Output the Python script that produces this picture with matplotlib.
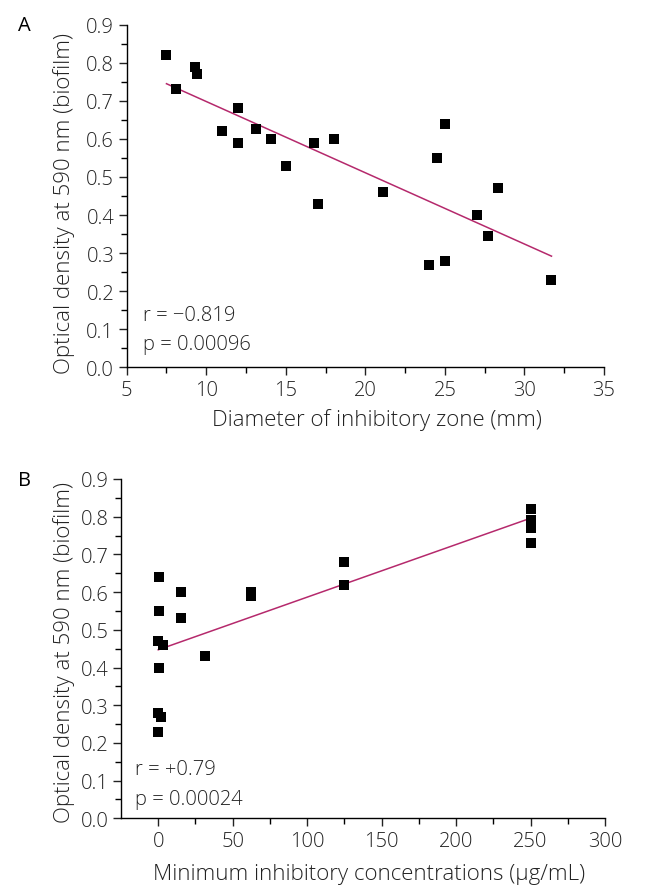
import numpy as np
import matplotlib
matplotlib.use("Agg")
import matplotlib.pyplot as plt
from matplotlib.ticker import MultipleLocator, FixedLocator

plt.rcParams['font.family'] = ['Open Sans', 'DejaVu Sans']

# Panel A data
zone_mm = [7.5, 8.1, 9.3, 9.4, 11.0, 12.0, 12.0, 13.1, 14.05, 15.0, 16.8, 17.05,
           18.05, 21.1, 24.0, 24.5, 25.0, 25.0, 27.0, 27.7, 28.35, 31.7]
od_a = [0.82, 0.73, 0.79, 0.77, 0.62, 0.68, 0.59, 0.627, 0.60, 0.53, 0.59, 0.43,
        0.60, 0.46, 0.27, 0.55, 0.64, 0.28, 0.40, 0.345, 0.47, 0.23]

# Panel B data
mic = [0.5, 0.5, 0, 3, 0.5, 0, 2, 0, 15.6, 15.6, 31.25, 62.5, 62.5, 125, 125,
       250, 250, 250, 250, 250]
od_b = [0.64, 0.55, 0.47, 0.46, 0.40, 0.28, 0.27, 0.23, 0.60, 0.53, 0.43, 0.60, 0.59,
        0.68, 0.62, 0.82, 0.79, 0.78, 0.77, 0.73]

# regression line endpoints
line_a_x = [7.5, 31.7]
line_a_y = [0.745, 0.292]
line_b_x = [0, 250]
line_b_y = [0.447, 0.796]

W, H = 645, 887
fig = plt.figure(figsize=(W / 100, H / 100), dpi=100)

def box(l, t, r, b):
    return [l / W, 1 - b / H, (r - l) / W, (b - t) / H]

line_color = '#B5296C'
txt = '#222222'
fs_tick = 14.5
fs_lab = 16
fw = 'light'

def style(ax):
    for s in ['top', 'right']:
        ax.spines[s].set_visible(False)
    for s in ['left', 'bottom']:
        ax.spines[s].set_linewidth(1.0)
    ax.tick_params(which='major', direction='out', length=6, width=1, labelsize=fs_tick,
                   colors=txt, pad=3)
    ax.tick_params(which='minor', direction='out', length=4, width=1)
    for lab in ax.get_xticklabels() + ax.get_yticklabels():
        lab.set_fontweight(fw)
    ax.set_ylim(0, 0.9)
    ax.yaxis.set_major_locator(MultipleLocator(0.1))
    ax.yaxis.set_minor_locator(MultipleLocator(0.05))
    ax.yaxis.set_major_formatter(matplotlib.ticker.FormatStrFormatter('%.1f'))

axA = fig.add_axes(box(126.7, 25.7, 604, 368.3))
axA.set_xlim(5, 35)
axA.xaxis.set_major_locator(MultipleLocator(5))
axA.xaxis.set_minor_locator(MultipleLocator(2.5))
style(axA)
axA.plot(line_a_x, line_a_y, color=line_color, lw=1.1, zorder=2)
axA.scatter(zone_mm, od_a, marker='s', s=50, color='black', zorder=3, linewidths=0)
axA.set_xlabel('Diameter of inhibitory zone (mm)', fontsize=fs_lab, color=txt, fontweight=fw)
axA.xaxis.set_label_coords(0.525, -0.118)
axA.set_ylabel('Optical density at 590 nm (biofilm)', fontsize=fs_lab, color=txt, fontweight=fw)
axA.yaxis.set_label_coords(-0.108, 0.48)
axA.text(0.034, 0.153, 'r = \u22120.819', transform=axA.transAxes, fontsize=fs_tick,
         color=txt, va='center', fontweight=fw)
axA.text(0.034, 0.068, 'p = 0.00096', transform=axA.transAxes, fontsize=fs_tick,
         color=txt, va='center', fontweight=fw)
fig.text(18 / W, 1 - 26 / H, 'A', fontsize=14.5, va='center', ha='left', color='black')

axB = fig.add_axes(box(121, 480, 605, 819.3))
axB.set_xlim(-25, 300)
axB.xaxis.set_major_locator(MultipleLocator(50))
axB.xaxis.set_minor_locator(FixedLocator(np.arange(25, 300, 50)))
style(axB)
axB.plot(line_b_x, line_b_y, color=line_color, lw=1.1, zorder=2)
axB.scatter(mic, od_b, marker='s', s=50, color='black', zorder=3, linewidths=0)
axB.set_xlabel('Minimum inhibitory concentrations (\u00b5g/mL)', fontsize=fs_lab, color=txt,
               fontweight=fw)
axB.xaxis.set_label_coords(0.512, -0.133)
axB.set_ylabel('Optical density at 590 nm (biofilm)', fontsize=fs_lab, color=txt, fontweight=fw)
axB.yaxis.set_label_coords(-0.095, 0.493)
axB.text(0.029, 0.145, 'r = +0.79', transform=axB.transAxes, fontsize=fs_tick,
         color=txt, va='center', fontweight=fw)
axB.text(0.029, 0.057, 'p = 0.00024', transform=axB.transAxes, fontsize=fs_tick,
         color=txt, va='center', fontweight=fw)
fig.text(18 / W, 1 - 481 / H, 'B', fontsize=14.5, va='center', ha='left', color='black')

fig.savefig('out.png', dpi=100)
